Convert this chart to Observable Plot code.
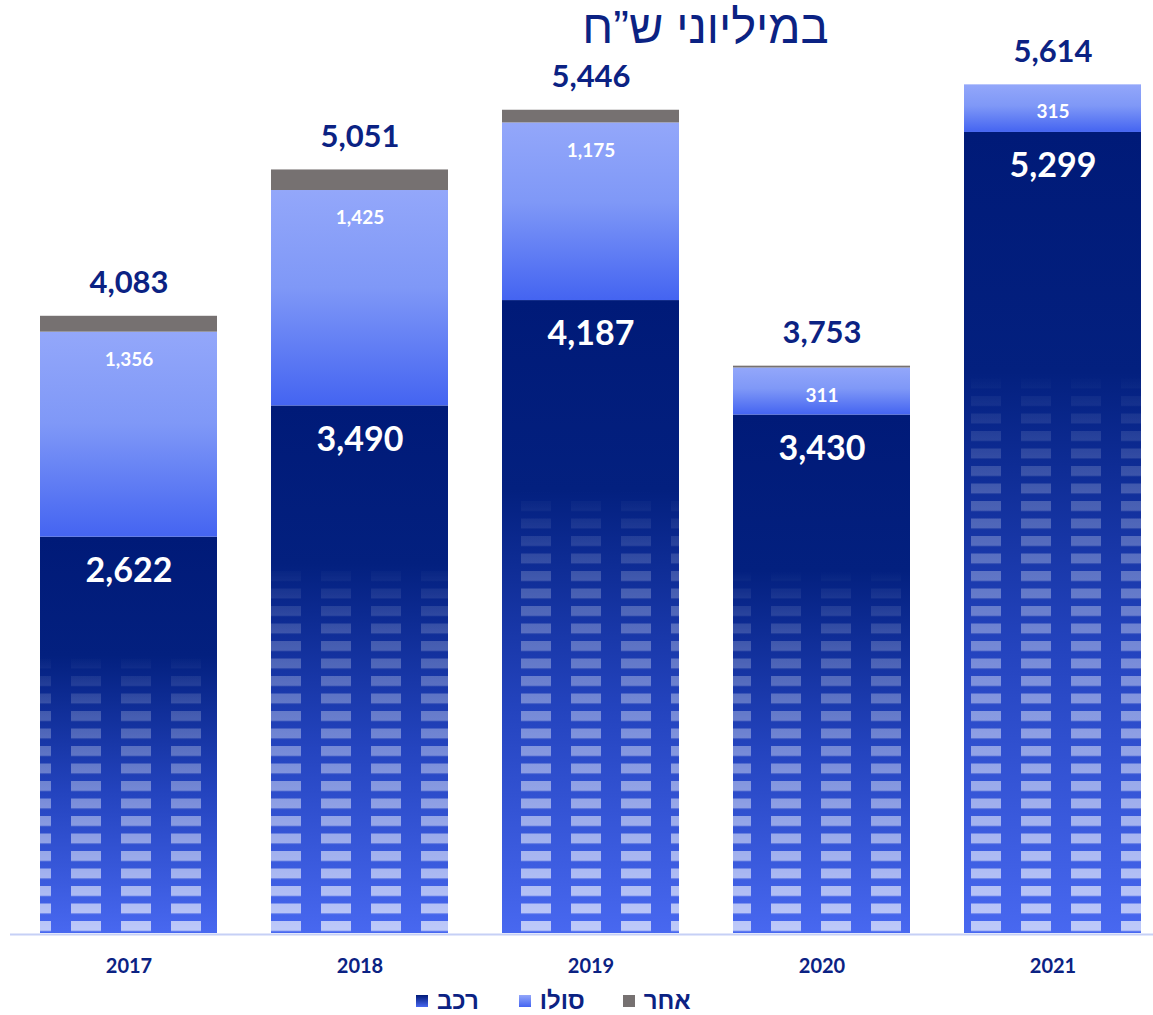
<!DOCTYPE html>
<html lang="he">
<head>
<meta charset="utf-8">
<script src="https://cdn.jsdelivr.net/npm/d3@7"></script>
<script src="https://cdn.jsdelivr.net/npm/@observablehq/plot@0.6"></script>
<style>
  html, body { margin: 0; padding: 0; background: #ffffff; }
  #wrap { position: relative; width: 1153px; height: 1015px; overflow: hidden; }
  #title { position: absolute; top: 0; left: 0; width: 1153px; text-align: center; padding-left: 258px; box-sizing: border-box;
           font-family: "Liberation Sans", "DejaVu Sans", sans-serif; font-size: 47px; color: #0b2283; direction: rtl; line-height: 53px; }
  #chart { position: absolute; top: 0; left: 0; }
  #legend { position: absolute; top: 987px; left: 416px; display: flex; align-items: center; direction: ltr;
            font-family: "Liberation Sans", "DejaVu Sans", sans-serif; font-weight: bold; font-size: 24px; color: #0b2283; }
  .item { display: flex; align-items: center; }
  .sw { width: 12px; height: 12px; display: inline-block; }
</style>
</head>
<body>
<div id="wrap">
  <div id="chart"></div>
  <div id="title">במיליוני ש”ח</div>
  <div id="legend"></div>
</div>
<script>
// ---- data ----
const years  = ["2017", "2018", "2019", "2020", "2021"];
const car    = [2622, 3490, 4187, 3430, 5299];   // רכב
const solo   = [1356, 1425, 1175, 311, 315];     // סולו
const other  = [105, 136, 84, 12, 0];            // אחר
const totals = [4083, 5051, 5446, 3753, 5614];
const seriesNames = ["רכב", "סולו", "אחר"];

const navy = "#0b2283";
const fills = {"רכב": "url(#carGrad)", "סולו": "url(#soloGrad)", "אחר": "#767171"};

const rows = [];
years.forEach((y, i) => {
  rows.push({year: y, type: "רכב", value: car[i]});
  rows.push({year: y, type: "סולו", value: solo[i]});
  rows.push({year: y, type: "אחר", value: other[i]});
});
const carRows = years.map((y, i) => ({year: y, value: car[i]}));
const soloLabels = years.map((y, i) => ({year: y, top: car[i] + solo[i], value: solo[i]}));
const totalRows = years.map((y, i) => ({year: y, value: totals[i]}));

const fmt = d3.format(",");

function defs() {
  const d = d3.create("svg:defs");
  const cg = d.append("linearGradient").attr("id", "carGrad").attr("x1", 0).attr("y1", 0).attr("x2", 0).attr("y2", 1);
  cg.append("stop").attr("offset", 0).attr("stop-color", "#001a78");
  cg.append("stop").attr("offset", 0.3).attr("stop-color", "#03207f");
  cg.append("stop").attr("offset", 0.65).attr("stop-color", "#2444bf");
  cg.append("stop").attr("offset", 1).attr("stop-color", "#4868f0");
  const sg = d.append("linearGradient").attr("id", "soloGrad").attr("x1", 0).attr("y1", 0).attr("x2", 0).attr("y2", 1);
  sg.append("stop").attr("offset", 0).attr("stop-color", "#93a7fa");
  sg.append("stop").attr("offset", 0.45).attr("stop-color", "#7f98f7");
  sg.append("stop").attr("offset", 1).attr("stop-color", "#4464f1");
  const p = d.append("pattern").attr("id", "dash").attr("patternUnits", "userSpaceOnUse")
    .attr("x", 21).attr("y", 11).attr("width", 50).attr("height", 17.5);
  p.append("rect").attr("x", 0).attr("y", 0).attr("width", 30).attr("height", 10).attr("fill", "white");
  const fg = d.append("linearGradient").attr("id", "fadeGrad").attr("x1", 0).attr("y1", 0).attr("x2", 0).attr("y2", 1);
  fg.append("stop").attr("offset", 0).attr("stop-color", "white").attr("stop-opacity", 0);
  fg.append("stop").attr("offset", 0.3).attr("stop-color", "white").attr("stop-opacity", 0);
  fg.append("stop").attr("offset", 0.45).attr("stop-color", "white").attr("stop-opacity", 0.22);
  fg.append("stop").attr("offset", 1).attr("stop-color", "white").attr("stop-opacity", 0.65);
  const m = d.append("mask").attr("id", "fade").attr("maskContentUnits", "objectBoundingBox");
  m.append("rect").attr("width", 1).attr("height", 1).attr("fill", "url(#fadeGrad)");
  return d.node();
}

const chart = Plot.plot({
  width: 1153,
  height: 1015,
  marginLeft: 10,
  marginRight: 0,
  marginTop: 26,
  marginBottom: 82,
  style: {fontFamily: "Lato, 'Open Sans', sans-serif", background: "transparent"},
  x: {domain: years, paddingInner: 0.234, paddingOuter: 0.0909, align: 0.714, label: null},
  y: {domain: [0, 6000], axis: null},
  marks: [
    defs,
    Plot.ruleY([0], {stroke: "#c6d0f6", strokeWidth: 2, dy: 1}),
    Plot.barY(rows, {x: "year", y: "value", fill: d => fills[d.type]}),
    Plot.barY(carRows, {x: "year", y: "value", fill: "url(#dash)"}),
    Plot.text(totalRows, {x: "year", y: "value", text: d => fmt(d.value), dy: -33,
      fill: navy, fontWeight: "bold", fontSize: 31}),
    Plot.text(carRows, {x: "year", y: "value", text: d => fmt(d.value), dy: 34,
      fill: "white", fontWeight: "bold", fontSize: 34}),
    Plot.text(soloLabels, {x: "year", y: "top", text: d => fmt(d.value), dy: 27.5,
      fill: "white", fontWeight: "bold", fontSize: 19, letterSpacing: "1px"}),
    Plot.axisX({tickSize: 0, tickPadding: 25, fill: navy, fontWeight: "bold", fontSize: 20, label: null})
  ]
});
d3.select(chart).selectAll('[fill="url(#dash)"]').each(function() {
  if (this.tagName.toLowerCase() === "rect") d3.select(this).attr("mask", "url(#fade)");
  else d3.select(this).selectAll("rect").attr("mask", "url(#fade)");
});
document.getElementById("chart").appendChild(chart);

// legend
const legendSw = {
  "רכב": "linear-gradient(#001a78, #4868f0)",
  "סולו": "linear-gradient(#93a7fa, #4464f1)",
  "אחר": "#767171"
};
const gaps = [40, 38, 0];
const leg = d3.select("#legend");
seriesNames.forEach((n, i) => {
  const it = leg.append("div").attr("class", "item").style("margin-right", gaps[i] + "px");
  it.append("span").attr("class", "sw").style("background", legendSw[n]);
  it.append("span").style("margin-left", "9px").style("direction", "rtl").text(n);
});
</script>
</body>
</html>
